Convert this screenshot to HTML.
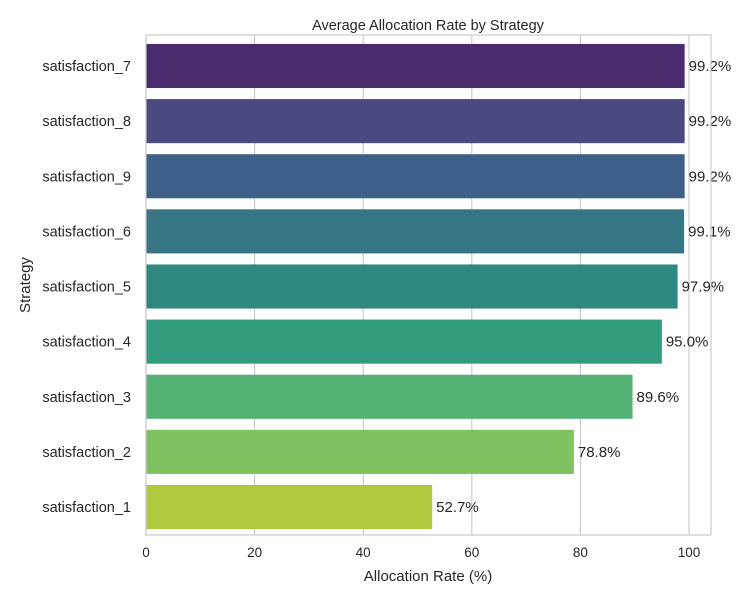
<!DOCTYPE html>
<html><head><meta charset="utf-8"><style>
body{margin:0;background:#fff;font-family:"Liberation Sans","DejaVu Sans",sans-serif;}
svg text{font-family:"Liberation Sans","DejaVu Sans",sans-serif;fill:#262626;}
</style></head><body>
<svg id="chart" width="749" height="600" xmlns="http://www.w3.org/2000/svg">
<rect width="749" height="600" fill="#fff"/>
<text x="428" y="30" font-size="14.5" text-anchor="middle">Average Allocation Rate by Strategy</text>
<g id="grid"></g>
<g id="bars"></g>
<rect x="146" y="35" width="565" height="500" fill="none" stroke="#cccccc" stroke-width="1.2"/>
<g id="xticks"></g>
<g id="yticks"></g>
<text x="428" y="581" font-size="15" text-anchor="middle">Allocation Rate (%)</text>
<text transform="translate(30,285) rotate(-90)" font-size="15" text-anchor="middle">Strategy</text>
</svg>
<script>
const categories=["satisfaction_7","satisfaction_8","satisfaction_9","satisfaction_6","satisfaction_5","satisfaction_4","satisfaction_3","satisfaction_2","satisfaction_1"];
const values=[99.2,99.2,99.2,99.1,97.9,95.0,89.6,78.8,52.7];
const colors=["#4a2b6e","#4a4a80","#3e6088","#367584","#2f8880","#339b7d","#54b174","#80c25f","#aec93d"];
const xTicks=[0,20,40,60,80,100];
const NS="http://www.w3.org/2000/svg";
const x0=146,x100=689,plotTop=35,plotBottom=535,firstCenter=66,lastCenter=507;
const xs=v=>x0+(x100-x0)*v/100;
const step=(lastCenter-firstCenter)/(categories.length-1);
const ys=i=>firstCenter+step*i;
function mk(tag,attrs,parent){const e=document.createElementNS(NS,tag);for(const k in attrs)e.setAttribute(k,attrs[k]);document.getElementById(parent).appendChild(e);return e;}
xTicks.forEach(t=>{
  const g=mk("line",{x1:xs(t),x2:xs(t),y1:plotTop,y2:plotBottom,stroke:"#cccccc","stroke-width":1.2},"grid");
  
  
  const tx=mk("text",{x:xs(t),y:557,"font-size":13.5,"text-anchor":"middle"},"xticks");
  tx.textContent=t;
  
  
});
categories.forEach((c,i)=>{
  const cy=ys(i),h=step*0.8;
  const r=mk("rect",{x:x0,y:cy-h/2,width:xs(values[i])-x0,height:h,fill:colors[i]},"bars");
  
  
  const v=mk("text",{x:xs(values[i])+4,y:cy+5,"font-size":15},"bars");
  v.textContent=values[i].toFixed(1)+"%";
  
  
  const l=mk("text",{x:131,y:cy+5,"font-size":14.5,"text-anchor":"end"},"yticks");
  l.textContent=c;
  
  
});
</script>
</body></html>
